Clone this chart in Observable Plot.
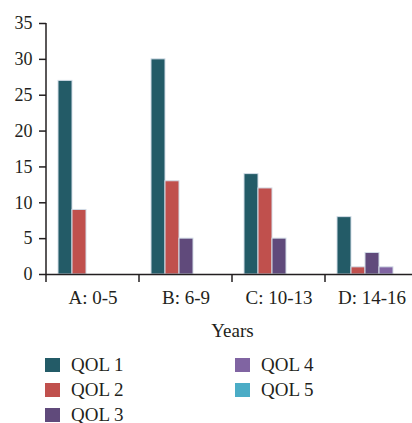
<!DOCTYPE html>
<html>
<head>
<meta charset="utf-8">
<script src="https://cdn.jsdelivr.net/npm/d3@7"></script>
<script src="https://cdn.jsdelivr.net/npm/@observablehq/plot@0.6"></script>
<style>
  html, body { margin: 0; padding: 0; background: #fff; }
  body { width: 412px; height: 423px; overflow: hidden; font-family: "Liberation Serif", serif; color: #231f20; }
  #legend { display: grid; grid-template-columns: 190px 190px; grid-template-rows: repeat(3, 25px); grid-auto-flow: column; padding-left: 45px; font-size: 19px; }
  .item { display: flex; align-items: center; height: 25px; }
  .sw { width: 15px; height: 14px; margin-right: 11px; }
</style>
</head>
<body>
<div id="chart"></div>
<div id="legend"></div>
<script>
const categories = ["A: 0-5", "B: 6-9", "C: 10-13", "D: 14-16"];
const series = ["QOL 1", "QOL 2", "QOL 3", "QOL 4", "QOL 5"];
const qol1 = [27, 30, 14, 8];
const qol2 = [9, 13, 12, 1];
const qol3 = [0, 5, 5, 3];
const qol4 = [0, 0, 0, 1];
const qol5 = [0, 0, 0, 0];
const colors = ["#235b67", "#c0504d", "#604a7b", "#8064a2", "#4bacc6"];
const yTicks = [0, 5, 10, 15, 20, 25, 30, 35];

const values = [qol1, qol2, qol3, qol4, qol5];
const data = [];
categories.forEach((c, i) => series.forEach((s, j) => data.push({cat: c, series: s, value: values[j][i]})));

const ink = "#231f20";
const plot = Plot.plot({
  width: 412,
  height: 352,
  marginLeft: 45,
  marginRight: -6,
  marginTop: 23,
  marginBottom: 78,
  style: {fontFamily: "Liberation Serif, serif", fontSize: "19px", color: ink, background: "white", overflow: "hidden"},
  fx: {domain: categories, padding: 0},
  x: {domain: series, paddingInner: 0, paddingOuter: 0.76, axis: null},
  y: {domain: [0, 35], axis: null},
  color: {domain: series, range: colors},
  marks: [
    Plot.barY(data, {fx: "cat", x: "series", y: "value", fill: "series", stroke: "#d3dde8", strokeWidth: 1, filter: d => d.value > 0}),
    Plot.ruleY([0], {stroke: ink, strokeWidth: 1.5}),
    Plot.axisY({ticks: yTicks, tickSize: 7, tickPadding: 7, fontSize: 18, label: null, stroke: ink, strokeWidth: 1.5, fill: ink}),
    Plot.axisFx({anchor: "bottom", tickSize: 0, tickPadding: 16, label: "Years", labelAnchor: "center", labelOffset: 62, fill: ink})
  ]
});
document.getElementById("chart").appendChild(plot);

// axis line and band-boundary ticks, positioned from Plot's own scales
const fx = plot.scale("fx");
const y = plot.scale("y");
const g = d3.select(plot).append("g").attr("stroke", ink).attr("stroke-width", 1.5);
const starts = categories.map(c => fx.apply(c));
const bounds = starts.concat([starts[starts.length - 1] + fx.bandwidth]);
const y0 = y.apply(0);
g.append("line").attr("x1", starts[0]).attr("x2", starts[0]).attr("y1", y.apply(35)).attr("y2", y0);
bounds.forEach(b => g.append("line").attr("x1", b).attr("x2", b).attr("y1", y0).attr("y2", y0 + 8));

// legend
const legend = d3.select("#legend");
series.forEach((s, j) => {
  const it = legend.append("div").attr("class", "item");
  it.append("div").attr("class", "sw").style("background", colors[j]);
  it.append("span").text(s);
});
</script>
</body>
</html>
